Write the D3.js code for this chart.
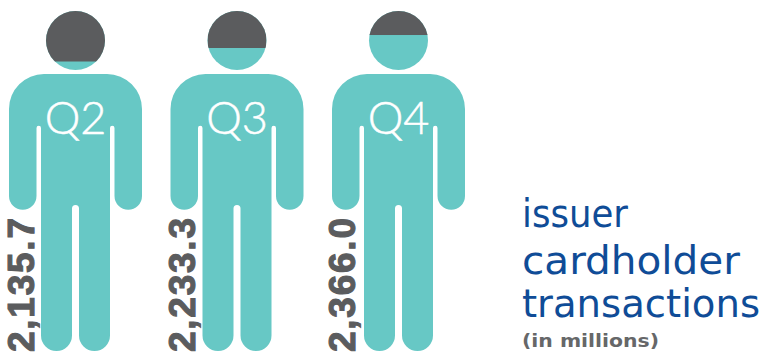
<!DOCTYPE html>
<html>
<head>
<meta charset="utf-8">
<script src="https://cdn.jsdelivr.net/npm/d3@7"></script>
<style>
  html, body { margin: 0; padding: 0; background: #fff; }
  svg { display: block; }
</style>
</head>
<body>
<svg id="chart" width="764" height="354"></svg>
<script>
const quarters = ["Q2", "Q3", "Q4"];
const transactions = [2135.7, 2233.3, 2366.0];
const valueLabels = ["2,135.7", "2,233.3", "2,366.0"];
// Share of each head filled with teal.
const headFillShare = [0.144, 0.373, 0.593];
const titleLines = ["issuer", "cardholder", "transactions"];
const unitLabel = "(in millions)";

const TEAL = "#67c8c5";
const GREY = "#5b5c5e";
const BLUE = "#0f4c97";

const svg = d3.select("#chart");

// Horizontal slot per figure; figure-local coordinates start at the left shoulder.
const xSlot = d3.scalePoint().domain(quarters).range([9, 332]);

// Head level: share of the head filled maps to the y of the teal fill line.
const headTop = 11, headBottom = 70, headR = 29.5;
const yLevel = d3.scaleLinear().domain([0, 1]).range([headBottom, headTop]);

const bodyPath = d3.path();
(function () {
  const p = bodyPath, w = 133, top = 74, r = 35;
  p.moveTo(0, top + r);
  p.arc(r, top + r, r, Math.PI, 1.5 * Math.PI);
  p.lineTo(w - r, top);
  p.arc(w - r, top + r, r, 1.5 * Math.PI, 2 * Math.PI);
  // right arm
  p.lineTo(w, 196);
  p.arc(w - 13.75, 196, 13.75, 0, Math.PI);
  p.lineTo(w - 27.5, 128);
  p.arc(w - 29.75, 128, 2.25, 0, Math.PI, true);
  // right leg
  p.lineTo(101, 335.5);
  p.arc(85.5, 335.5, 15.5, 0, Math.PI);
  p.lineTo(70, 208.5);
  p.arc(66.5, 208.5, 3.5, 0, Math.PI, true);
  // left leg
  p.lineTo(63, 335.5);
  p.arc(47.5, 335.5, 15.5, 0, Math.PI);
  p.lineTo(32, 128);
  p.arc(29.75, 128, 2.25, 0, Math.PI, true);
  // left arm
  p.lineTo(27.5, 196);
  p.arc(13.75, 196, 13.75, 0, Math.PI);
  p.closePath();
})();

const defs = svg.append("defs");
const figures = svg.selectAll("g.figure")
  .data(quarters.map((q, i) => ({
    q, value: transactions[i], share: headFillShare[i], label: valueLabels[i]
  })))
  .join("g")
  .attr("class", "figure")
  .attr("transform", d => `translate(${xSlot(d.q)},0)`);

figures.append("path").attr("d", bodyPath.toString()).attr("fill", TEAL);

const headCx = 66.5, headCy = 40.5;
figures.each(function (d, i) {
  defs.append("clipPath").attr("id", "head-" + i)
    .append("circle").attr("cx", headCx).attr("cy", headCy).attr("r", headR);
});
figures.append("circle")
  .attr("cx", headCx).attr("cy", headCy).attr("r", headR).attr("fill", TEAL);
figures.append("rect")
  .attr("clip-path", (d, i) => `url(#head-${i})`)
  .attr("x", headCx - headR).attr("width", headR * 2)
  .attr("y", headTop)
  .attr("height", d => yLevel(d.share) - headTop)
  .attr("fill", GREY);

figures.append("text")
  .attr("x", 66.5).attr("y", 134)
  .attr("text-anchor", "middle")
  .attr("font-family", "Lato, sans-serif")
  .attr("font-weight", 300)
  .attr("font-size", 45)
  .attr("fill", "#fff")
  .attr("stroke", "#fff")
  .attr("stroke-width", 0.5)
  .text(d => d.q);

// Value labels read upward along the left leg, all ending at the same height.
const labelBaseline = [24.5, 24.5, 22.5];
const labelLength = 134;
figures.append("text")
  .attr("transform", (d, i) => `translate(${labelBaseline[i]},${218 + labelLength}) rotate(-90)`)
  .attr("font-family", "'Liberation Sans', Arial, sans-serif")
  .attr("font-weight", 700)
  .attr("font-size", 37)
  .attr("fill", GREY)
  .attr("stroke", GREY)
  .attr("stroke-width", 1.1)
  .attr("textLength", labelLength)
  .attr("lengthAdjust", "spacing")
  .text(d => d.label);

const titleWidths = [106, 218, 238];
const titleBaselines = [227, 274, 317];
svg.append("g").attr("fill", BLUE)
  .attr("font-family", "'DejaVu Sans', sans-serif")
  .attr("font-size", 39)
  .selectAll("text").data(titleLines).join("text")
  .attr("x", 522)
  .attr("y", (d, i) => titleBaselines[i])
  .attr("textLength", (d, i) => titleWidths[i])
  .attr("lengthAdjust", "spacingAndGlyphs")
  .text(d => d);

svg.append("text")
  .attr("x", 522).attr("y", 347)
  .attr("font-family", "'DejaVu Sans', sans-serif")
  .attr("font-weight", 700)
  .attr("font-size", 18)
  .attr("fill", "#666769")
  .attr("textLength", 137)
  .attr("lengthAdjust", "spacingAndGlyphs")
  .text(unitLabel);
</script>
</body>
</html>
